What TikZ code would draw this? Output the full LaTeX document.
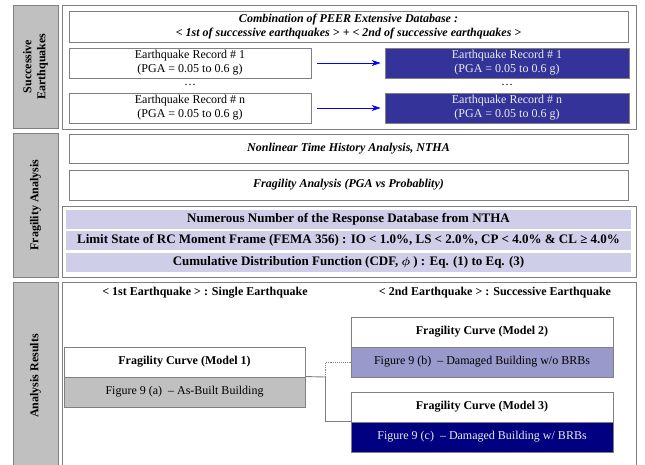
\documentclass[tikz,border=0pt]{standalone}
\usepackage{color}
\usepackage{fontspec}
\setmainfont{Liberation Serif}
\usepackage{tikz}
\usetikzlibrary{shapes.geometric, arrows, arrows.meta}
\definecolor{tabgray}{RGB}{192,192,192}
\definecolor{edgegray}{RGB}{128,128,128}
\definecolor{recblue}{RGB}{51,51,153}
\definecolor{barlav}{RGB}{206,206,232}
\definecolor{figlav}{RGB}{153,153,204}
\definecolor{fignavy}{RGB}{0,0,128}
\tikzstyle{tab} = [rectangle, minimum height=45pt, draw=edgegray, fill=tabgray,
line width=0.9pt, font=\large\bfseries, align=center, rotate=90]
\tikzstyle{frame} = [rectangle, minimum width=574pt, draw=edgegray, line width=0.9pt]
\tikzstyle{wide} = [rectangle, minimum width=559pt, minimum height=30pt,
draw=edgegray, line width=0.9pt, font=\large\bfseries\itshape, align=center]
\tikzstyle{record} = [rectangle, minimum width=242pt, minimum height=30pt,
draw=edgegray, line width=0.9pt, align=center, inner sep=1pt, font=\large]
\tikzstyle{darkrecord} = [record, minimum width=244pt, fill=recblue, text=white!85!gray]
\tikzstyle{bar} = [rectangle, minimum width=565pt, minimum height=19pt,
fill=barlav, font=\fontsize{13}{15}\selectfont\bfseries, inner sep=0pt]
\tikzstyle{curve} = [rectangle, minimum width=262pt, minimum height=30pt,
draw=edgegray, line width=0.9pt, font=\large\bfseries]
\tikzstyle{figure} = [curve, font=\large]
\tikzstyle{heading} = [font=\large\bfseries]
\tikzstyle{arrow} =
[blue, semithick, ->, >={Stealth[length=9pt, width=6pt]}, shorten <=6pt, shorten >=4pt]

\begin{document}
\begin{tikzpicture}[x=1pt, y=-1pt, node distance=30pt]
\clip (0,0) rectangle (645,464);
\useasboundingbox (0,0) rectangle (645,464);

% successive earthquakes
\node(tabeq)[tab, minimum width=123pt] at (35.5,66.5) {Successive\\Earthquakes};
\node(frameeq)[frame, minimum height=124pt] at (349,67) {};
\node(peer)[wide] at (348.5,27) {Combination of PEER Extensive Database :\\
< 1st of successive earthquakes > + < 2nd of successive earthquakes >};
\node(firstone)[record] at (190,63) {Earthquake Record \# 1\\(PGA = 0.05 to 0.6 g)};
\node(firstn)[record, below of=firstone, yshift=-15pt] {Earthquake Record \# n\\(PGA = 0.05 to 0.6 g)};
\node(firstdots)[font=\large] at (190,85) {…};
\node(secondone)[darkrecord] at (507,63) {Earthquake Record \# 1\\(PGA = 0.05 to 0.6 g)};
\node(secondn)[darkrecord, below of=secondone, yshift=-15pt] {Earthquake Record \# n\\(PGA = 0.05 to 0.6 g)};
\node(seconddots)[font=\large] at (507,85) {…};

\draw[arrow](firstone) -- (secondone);
\draw[arrow](firstn) -- (secondn);

% fragility analysis
\node(tabfrag)[tab, minimum width=144pt] at (35.5,205) {Fragility Analysis};
\node(ntha)[wide, minimum height=29pt] at (348.5,148.5) {Nonlinear Time History Analysis, NTHA};
\node(frag)[wide] at (348.5,185) {Fragility Analysis (PGA vs Probablity)};
\node(framedb)[frame, minimum height=71pt] at (349,241.5) {};
\node(numerous)[bar] at (348.5,219.5) {Numerous Number of the Response Database from NTHA};
\node(limit)[bar] at (348.5,240.5) {Limit State of RC Moment Frame (FEMA 356) : IO < 1.0\%, LS < 2.0\%, CP < 4.0\% \& CL ≥ 4.0\%};
\node(cdf)[bar] at (348.5,262.5) {Cumulative Distribution Function (CDF, {\boldmath$\phi$} ) : Eq. (1) to Eq. (3)};

% analysis results
\node(tabres)[tab, minimum width=188pt] at (35.5,376) {Analysis Results};
\node(frameres)[frame, minimum height=188pt] at (349,376) {};
\node(single)[heading] at (205,293) {< 1st Earthquake > : Single Earthquake};
\node(successive)[heading] at (495,293) {< 2nd Earthquake > : Successive Earthquake};

\node(modelone)[curve, minimum width=241pt] at (184.5,362) {Fragility Curve (Model 1)};
\node(figone)[figure, minimum width=241pt, fill=tabgray, below of=modelone] {Figure 9 (a)~ -- As-Built Building};
\node(modeltwo)[curve] at (482,332) {Fragility Curve (Model 2)};
\node(figtwo)[figure, fill=figlav, below of=modeltwo] {Figure 9 (b)~ -- Damaged Building w/o BRBs};
\node(modelthree)[curve] at (482,407) {Fragility Curve (Model 3)};
\node(figthree)[figure, fill=fignavy, text=white!85!gray, below of=modelthree] {Figure 9 (c)~ -- Damaged Building w/ BRBs};

\coordinate(split) at (325.5,377);
\draw[edgegray, line width=0.9pt](figone.north east) -- (split);
\draw[edgegray, line width=0.9pt, densely dotted](split) |- (figtwo.west);
\draw[edgegray, line width=0.9pt](split) |- (figthree.north west);

\end{tikzpicture}
\end{document}
